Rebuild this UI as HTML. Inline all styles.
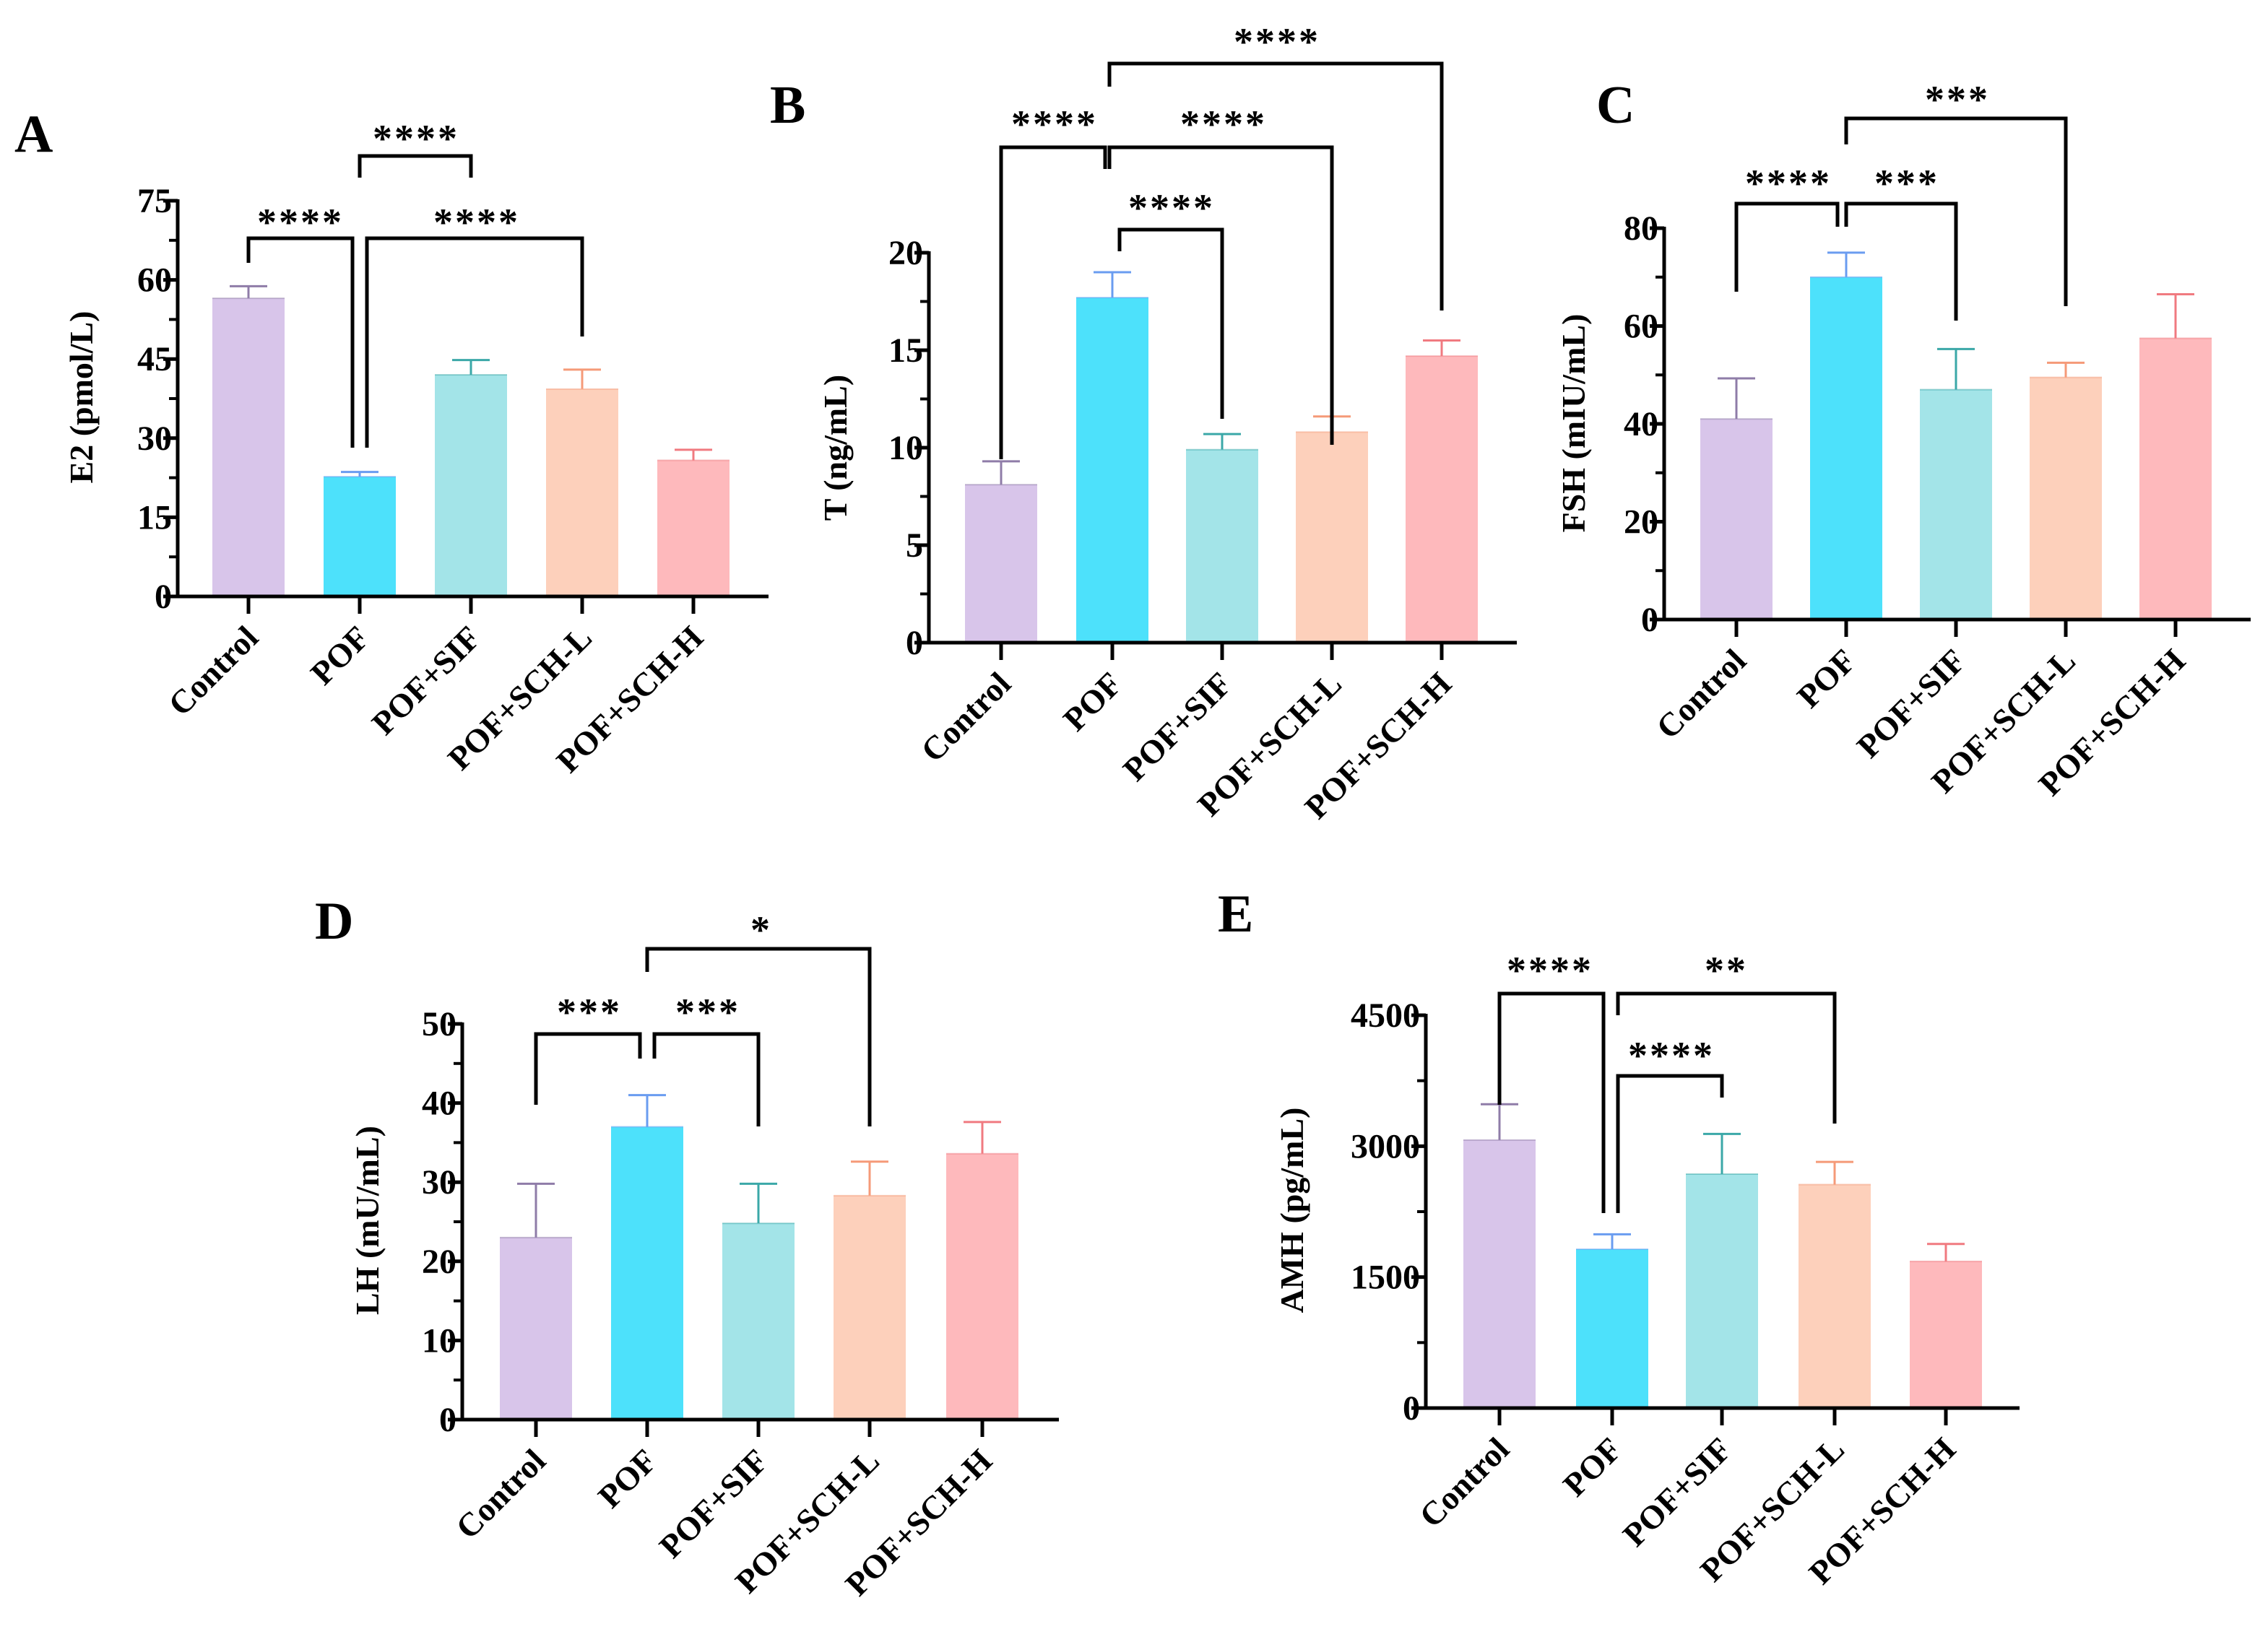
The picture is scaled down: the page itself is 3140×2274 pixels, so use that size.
<!DOCTYPE html>
<html><head><meta charset="utf-8"><style>
html,body{margin:0;padding:0;background:#fff;}
svg{display:block;}
text{font-family:"Liberation Serif",serif;font-weight:bold;fill:#000;}
</style></head><body>
<svg id="fig" width="3140" height="2274" viewBox="0 0 1570 1137" xmlns="http://www.w3.org/2000/svg"></svg>
<script>
const categories = ["Control","POF","POF+SIF","POF+SCH-L","POF+SCH-H"];
const fills = ["#d8c5ea","#4de1fb","#a3e4e8","#fdd0bb","#feb9bc"];
const errColors = ["#8f7ca8","#6a9cf0","#3ba8a8","#f59a78","#f07a80"];

const e2Values = [56.5, 22.7, 42.0, 39.3, 25.8];
const e2Errors = [58.8, 23.6, 44.8, 43.0, 27.8];
const e2Ticks = [0,15,30,45,60,75];

const tValues = [8.1, 17.7, 9.9, 10.8, 14.7];
const tErrors = [9.3, 19.0, 10.7, 11.6, 15.5];
const tTicks = [0,5,10,15,20];

const fshValues = [41, 70, 47, 49.5, 57.5];
const fshErrors = [49.3, 75, 55.3, 52.5, 66.5];
const fshTicks = [0,20,40,60,80];

const lhValues = [23, 37, 24.8, 28.3, 33.6];
const lhErrors = [29.8, 41, 29.8, 32.6, 37.6];
const lhTicks = [0,10,20,30,40,50];

const amhValues = [3070, 1820, 2680, 2560, 1680];
const amhErrors = [3480, 1990, 3140, 2820, 1880];
const amhTicks = [0,1500,3000,4500];

const svg = document.getElementById('fig');
const NS = "http://www.w3.org/2000/svg";
function mk(tag, attrs, parent){
  const el = document.createElementNS(NS, tag);
  for (const k in attrs) el.setAttribute(k, attrs[k]);
  (parent||svg).appendChild(el);
  return el;
}

const panels = [
  {id:"a", letter:"A", lx:10, ly:105, title:"E2 (pmol/L)", tx:64, ty:275,
   ax:123, x0:113, x1:532, y0:413, yTop:139, max:75, ticks:e2Ticks, minor:true,
   centers:[172,249,326,403,480], vals:e2Values, errs:e2Errors,
   br:[[172,244,165,182,310,208,150],[254,403,165,310,233,330,150],[249,326,108,123,123,288,92]]},
  {id:"b", letter:"B", lx:533, ly:85, title:"T (ng/mL)", tx:586, ty:310,
   ax:643, x0:633, x1:1050, y0:445, yTop:175, max:20, ticks:tTicks, minor:true,
   centers:[693,770,846,922,998], vals:tValues, errs:tErrors,
   br:[[693,765,102,318,117,730,82],[768,998,44,60,215,884,25],[768,922,102,117,308,847,82],[775,846,159,174,290,811,140]]},
  {id:"c", letter:"C", lx:1105, ly:85, title:"FSH (mIU/mL)", tx:1097, ty:293,
   ax:1152, x0:1142, x1:1558, y0:429, yTop:158, max:80, ticks:fshTicks, minor:true,
   centers:[1202,1278,1354,1430,1506], vals:fshValues, errs:fshErrors,
   br:[[1202,1272,141,202,157,1238,123],[1278,1354,141,157,222,1320,123],[1278,1430,82,100,212,1355,65]]},
  {id:"d", letter:"D", lx:218, ly:650, title:"LH (mU/mL)", tx:262, ty:845,
   ax:320, x0:310, x1:733, y0:983, yTop:709, max:50, ticks:lhTicks, minor:true,
   centers:[371,448,525,602,680], vals:lhValues, errs:lhErrors,
   br:[[371,443,716,765,733,408,697],[453,525,716,733,780,490,697],[448,602,657,673,780,527,640]]},
  {id:"e", letter:"E", lx:843, ly:645, title:"AMH (pg/mL)", tx:902, ty:838,
   ax:987, x0:977, x1:1398, y0:975, yTop:703, max:4500, ticks:amhTicks, minor:true,
   centers:[1038,1116,1192,1270,1347], vals:amhValues, errs:amhErrors,
   br:[[1038,1110,688,765,840,1073,668],[1120,1270,688,703,778,1195,668],[1120,1192,745,840,760,1157,727]]}
];

panels.forEach(p=>{
  const g = mk('g',{});
  
  
  const y = v => p.y0 - v/p.max*(p.y0-p.yTop);
  const lt = mk('text',{x:p.lx,y:p.ly,'font-size':37},g); lt.textContent=p.letter;
  
  
  p.vals.forEach((v,i)=>{
    const cx=p.centers[i], w=50;
    const ex = p.errs[i];
    const el = mk('line',{x1:cx,x2:cx,y1:y(v),y2:y(ex),stroke:errColors[i],'stroke-width':1.5},g);
    
    
    const cap = mk('line',{x1:cx-13,x2:cx+13,y1:y(ex),y2:y(ex),stroke:errColors[i],'stroke-width':1.5},g);
    
    
    const b = mk('rect',{x:cx-w/2,y:y(v),width:w,height:p.y0-y(v),fill:fills[i]},g);
    
    
    mk('line',{x1:cx-w/2,x2:cx+w/2,y1:y(v),y2:y(v),stroke:errColors[i],'stroke-width':1,opacity:0.5},g);
    mk('line',{x1:cx,x2:cx,y1:p.y0,y2:p.y0+12,stroke:'#000','stroke-width':2.5},g);
    const t = mk('text',{x:cx+8,y:p.y0+30,'font-size':23,'text-anchor':'end',transform:`rotate(-45 ${cx+8} ${p.y0+30})`},g);
    t.textContent=categories[i];
    
    
  });
  const ya = mk('line',{x1:p.ax,x2:p.ax,y1:p.yTop-1,y2:p.y0+1.25,stroke:'#000','stroke-width':2.5},g);
  
  
  const xa = mk('line',{x1:p.x0,x2:p.x1,y1:p.y0,y2:p.y0,stroke:'#000','stroke-width':2.5},g);
  
  
  p.ticks.forEach((tv,k)=>{
    mk('line',{x1:p.ax-10,x2:p.ax,y1:y(tv),y2:y(tv),stroke:'#000','stroke-width':2.5},g);
    const tl = mk('text',{x:p.ax-4,y:y(tv)+8,'font-size':24,'text-anchor':'end'},g);
    tl.textContent=tv;
    
    
    if(p.minor && k<p.ticks.length-1){
      const mv=(tv+p.ticks[k+1])/2;
      mk('line',{x1:p.ax-6,x2:p.ax,y1:y(mv),y2:y(mv),stroke:'#000','stroke-width':2},g);
    }
  });
  const yt = mk('text',{x:p.tx,y:p.ty,'font-size':23,'text-anchor':'middle',transform:`rotate(-90 ${p.tx} ${p.ty})`},g);
  yt.textContent=p.title;
  
  
  const stars = {a:["****","****","****"],b:["****","****","****","****"],c:["****","***","***"],d:["***","***","*"],e:["****","**","****"]}[p.id];
  p.br.forEach((b,k)=>{
    const [xa1,xb,top,ld,rd,txx,tyy]=b;
    const path = mk('path',{d:`M${xa1} ${ld} V${top} H${xb} V${rd}`,fill:'none',stroke:'#000','stroke-width':2.5},g);
    
    
    const st = mk('text',{x:txx,y:tyy+13,'font-size':27,'text-anchor':'middle','letter-spacing':'1.5'},g);
    st.textContent=stars[k];
    
    
  });
});
</script>
</body></html>
